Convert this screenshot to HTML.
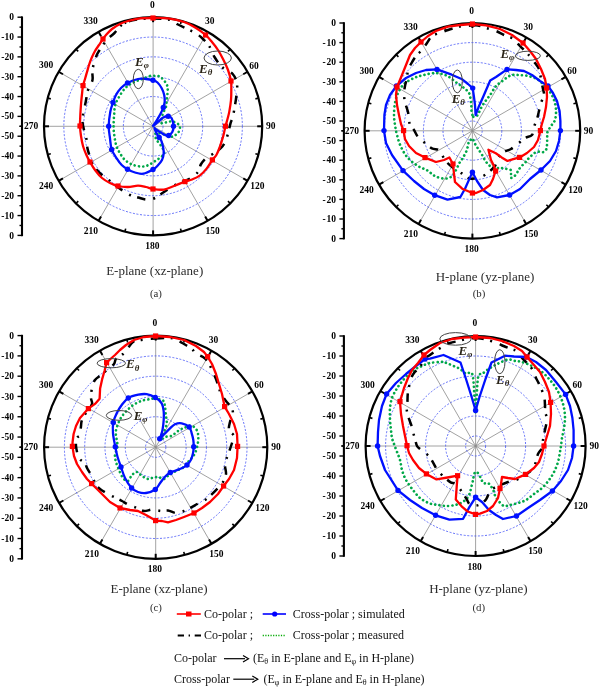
<!DOCTYPE html>
<html><head><meta charset="utf-8"><style>
html,body{margin:0;padding:0;background:#fff;}
svg{display:block;will-change:transform;}
text{font-family:"Liberation Serif",serif;}
.ax{font-size:9.5px;font-weight:bold;}
.ang{font-size:9.5px;font-weight:bold;}
.cap{font-size:13px;fill:#2b2b2b;}
.sub{font-size:10.8px;fill:#2b2b2b;}
.leg{font-size:12px;fill:#111;}
.sb{font-size:8px;}
.el{font-style:italic;font-weight:bold;fill:#2a2418;}
</style></head><body>
<svg width="600" height="688" viewBox="0 0 600 688">
<rect width="600" height="688" fill="#fff"/>
<line x1="153.10" y1="126.30" x2="153.10" y2="17.20" stroke="#8a8a8a" stroke-width="0.8"/>
<line x1="153.10" y1="126.30" x2="207.65" y2="31.82" stroke="#8a8a8a" stroke-width="0.8"/>
<line x1="153.10" y1="126.30" x2="247.58" y2="71.75" stroke="#8a8a8a" stroke-width="0.8"/>
<line x1="153.10" y1="126.30" x2="262.20" y2="126.30" stroke="#8a8a8a" stroke-width="0.8"/>
<line x1="153.10" y1="126.30" x2="247.58" y2="180.85" stroke="#8a8a8a" stroke-width="0.8"/>
<line x1="153.10" y1="126.30" x2="207.65" y2="220.78" stroke="#8a8a8a" stroke-width="0.8"/>
<line x1="153.10" y1="126.30" x2="153.10" y2="235.40" stroke="#8a8a8a" stroke-width="0.8"/>
<line x1="153.10" y1="126.30" x2="98.55" y2="220.78" stroke="#8a8a8a" stroke-width="0.8"/>
<line x1="153.10" y1="126.30" x2="58.62" y2="180.85" stroke="#8a8a8a" stroke-width="0.8"/>
<line x1="153.10" y1="126.30" x2="44.00" y2="126.30" stroke="#8a8a8a" stroke-width="0.8"/>
<line x1="153.10" y1="126.30" x2="58.62" y2="71.75" stroke="#8a8a8a" stroke-width="0.8"/>
<line x1="153.10" y1="126.30" x2="98.55" y2="31.82" stroke="#8a8a8a" stroke-width="0.8"/>
<circle cx="153.10" cy="126.30" r="89.26" fill="none" stroke="#4050f8" stroke-width="0.8" stroke-dasharray="2 1.6"/>
<circle cx="153.10" cy="126.30" r="69.43" fill="none" stroke="#4050f8" stroke-width="0.8" stroke-dasharray="2 1.6"/>
<circle cx="153.10" cy="126.30" r="49.59" fill="none" stroke="#4050f8" stroke-width="0.8" stroke-dasharray="2 1.6"/>
<circle cx="153.10" cy="126.30" r="29.75" fill="none" stroke="#4050f8" stroke-width="0.8" stroke-dasharray="2 1.6"/>
<circle cx="153.10" cy="126.30" r="9.92" fill="none" stroke="#4050f8" stroke-width="0.8" stroke-dasharray="2 1.6"/>
<circle cx="153.10" cy="126.30" r="109.10" fill="none" stroke="#000" stroke-width="2.2"/>
<line x1="153.10" y1="17.20" x2="153.10" y2="22.20" stroke="#000" stroke-width="2.0"/>
<line x1="181.34" y1="20.92" x2="180.51" y2="24.01" stroke="#000" stroke-width="1.6"/>
<line x1="207.65" y1="31.82" x2="205.15" y2="36.15" stroke="#000" stroke-width="2.0"/>
<line x1="230.25" y1="49.15" x2="227.98" y2="51.42" stroke="#000" stroke-width="1.6"/>
<line x1="247.58" y1="71.75" x2="243.25" y2="74.25" stroke="#000" stroke-width="2.0"/>
<line x1="258.48" y1="98.06" x2="255.39" y2="98.89" stroke="#000" stroke-width="1.6"/>
<line x1="262.20" y1="126.30" x2="257.20" y2="126.30" stroke="#000" stroke-width="2.0"/>
<line x1="258.48" y1="154.54" x2="255.39" y2="153.71" stroke="#000" stroke-width="1.6"/>
<line x1="247.58" y1="180.85" x2="243.25" y2="178.35" stroke="#000" stroke-width="2.0"/>
<line x1="230.25" y1="203.45" x2="227.98" y2="201.18" stroke="#000" stroke-width="1.6"/>
<line x1="207.65" y1="220.78" x2="205.15" y2="216.45" stroke="#000" stroke-width="2.0"/>
<line x1="181.34" y1="231.68" x2="180.51" y2="228.59" stroke="#000" stroke-width="1.6"/>
<line x1="153.10" y1="235.40" x2="153.10" y2="230.40" stroke="#000" stroke-width="2.0"/>
<line x1="124.86" y1="231.68" x2="125.69" y2="228.59" stroke="#000" stroke-width="1.6"/>
<line x1="98.55" y1="220.78" x2="101.05" y2="216.45" stroke="#000" stroke-width="2.0"/>
<line x1="75.95" y1="203.45" x2="78.22" y2="201.18" stroke="#000" stroke-width="1.6"/>
<line x1="58.62" y1="180.85" x2="62.95" y2="178.35" stroke="#000" stroke-width="2.0"/>
<line x1="47.72" y1="154.54" x2="50.81" y2="153.71" stroke="#000" stroke-width="1.6"/>
<line x1="44.00" y1="126.30" x2="49.00" y2="126.30" stroke="#000" stroke-width="2.0"/>
<line x1="47.72" y1="98.06" x2="50.81" y2="98.89" stroke="#000" stroke-width="1.6"/>
<line x1="58.62" y1="71.75" x2="62.95" y2="74.25" stroke="#000" stroke-width="2.0"/>
<line x1="75.95" y1="49.15" x2="78.22" y2="51.42" stroke="#000" stroke-width="1.6"/>
<line x1="98.55" y1="31.82" x2="101.05" y2="36.15" stroke="#000" stroke-width="2.0"/>
<line x1="124.86" y1="20.92" x2="125.69" y2="24.01" stroke="#000" stroke-width="1.6"/>
<line x1="22.0" y1="16.40" x2="22.0" y2="236.20" stroke="#000" stroke-width="2.1"/>
<line x1="17.50" y1="17.20" x2="22.0" y2="17.20" stroke="#000" stroke-width="1.4"/>
<line x1="17.50" y1="235.40" x2="22.0" y2="235.40" stroke="#000" stroke-width="1.4"/>
<line x1="19.50" y1="27.12" x2="22.0" y2="27.12" stroke="#000" stroke-width="1.4"/>
<line x1="19.50" y1="225.48" x2="22.0" y2="225.48" stroke="#000" stroke-width="1.4"/>
<line x1="17.50" y1="37.04" x2="22.0" y2="37.04" stroke="#000" stroke-width="1.4"/>
<line x1="17.50" y1="215.56" x2="22.0" y2="215.56" stroke="#000" stroke-width="1.4"/>
<line x1="19.50" y1="46.95" x2="22.0" y2="46.95" stroke="#000" stroke-width="1.4"/>
<line x1="19.50" y1="205.65" x2="22.0" y2="205.65" stroke="#000" stroke-width="1.4"/>
<line x1="17.50" y1="56.87" x2="22.0" y2="56.87" stroke="#000" stroke-width="1.4"/>
<line x1="17.50" y1="195.73" x2="22.0" y2="195.73" stroke="#000" stroke-width="1.4"/>
<line x1="19.50" y1="66.79" x2="22.0" y2="66.79" stroke="#000" stroke-width="1.4"/>
<line x1="19.50" y1="185.81" x2="22.0" y2="185.81" stroke="#000" stroke-width="1.4"/>
<line x1="17.50" y1="76.71" x2="22.0" y2="76.71" stroke="#000" stroke-width="1.4"/>
<line x1="17.50" y1="175.89" x2="22.0" y2="175.89" stroke="#000" stroke-width="1.4"/>
<line x1="19.50" y1="86.63" x2="22.0" y2="86.63" stroke="#000" stroke-width="1.4"/>
<line x1="19.50" y1="165.97" x2="22.0" y2="165.97" stroke="#000" stroke-width="1.4"/>
<line x1="17.50" y1="96.55" x2="22.0" y2="96.55" stroke="#000" stroke-width="1.4"/>
<line x1="17.50" y1="156.05" x2="22.0" y2="156.05" stroke="#000" stroke-width="1.4"/>
<line x1="19.50" y1="106.46" x2="22.0" y2="106.46" stroke="#000" stroke-width="1.4"/>
<line x1="19.50" y1="146.14" x2="22.0" y2="146.14" stroke="#000" stroke-width="1.4"/>
<line x1="17.50" y1="116.38" x2="22.0" y2="116.38" stroke="#000" stroke-width="1.4"/>
<line x1="17.50" y1="136.22" x2="22.0" y2="136.22" stroke="#000" stroke-width="1.4"/>
<line x1="19.50" y1="126.30" x2="22.0" y2="126.30" stroke="#000" stroke-width="1.4"/>
<line x1="19.50" y1="126.30" x2="22.0" y2="126.30" stroke="#000" stroke-width="1.4"/>
<text x="14.00" y="20.30" text-anchor="end" class="ax">0</text>
<text x="14.00" y="238.50" text-anchor="end" class="ax">0</text>
<text x="14.00" y="40.14" text-anchor="end" class="ax">-10</text>
<text x="14.00" y="218.66" text-anchor="end" class="ax">-10</text>
<text x="14.00" y="59.97" text-anchor="end" class="ax">-20</text>
<text x="14.00" y="198.83" text-anchor="end" class="ax">-20</text>
<text x="14.00" y="79.81" text-anchor="end" class="ax">-30</text>
<text x="14.00" y="178.99" text-anchor="end" class="ax">-30</text>
<text x="14.00" y="99.65" text-anchor="end" class="ax">-40</text>
<text x="14.00" y="159.15" text-anchor="end" class="ax">-40</text>
<text x="14.00" y="119.48" text-anchor="end" class="ax">-50</text>
<text x="14.00" y="139.32" text-anchor="end" class="ax">-50</text>
<text x="152.40" y="7.60" text-anchor="middle" class="ang">0</text>
<text x="209.70" y="24.30" text-anchor="middle" class="ang">30</text>
<text x="254.00" y="68.60" text-anchor="middle" class="ang">60</text>
<text x="270.70" y="129.10" text-anchor="middle" class="ang">90</text>
<text x="257.30" y="188.90" text-anchor="middle" class="ang">120</text>
<text x="212.50" y="233.80" text-anchor="middle" class="ang">150</text>
<text x="152.25" y="248.85" text-anchor="middle" class="ang">180</text>
<text x="90.80" y="233.90" text-anchor="middle" class="ang">210</text>
<text x="46.00" y="188.90" text-anchor="middle" class="ang">240</text>
<text x="31.00" y="129.30" text-anchor="middle" class="ang">270</text>
<text x="46.00" y="68.30" text-anchor="middle" class="ang">300</text>
<text x="90.50" y="24.40" text-anchor="middle" class="ang">330</text><line x1="472.40" y1="130.80" x2="472.40" y2="23.00" stroke="#8a8a8a" stroke-width="0.8"/>
<line x1="472.40" y1="130.80" x2="526.30" y2="37.44" stroke="#8a8a8a" stroke-width="0.8"/>
<line x1="472.40" y1="130.80" x2="565.76" y2="76.90" stroke="#8a8a8a" stroke-width="0.8"/>
<line x1="472.40" y1="130.80" x2="580.20" y2="130.80" stroke="#8a8a8a" stroke-width="0.8"/>
<line x1="472.40" y1="130.80" x2="565.76" y2="184.70" stroke="#8a8a8a" stroke-width="0.8"/>
<line x1="472.40" y1="130.80" x2="526.30" y2="224.16" stroke="#8a8a8a" stroke-width="0.8"/>
<line x1="472.40" y1="130.80" x2="472.40" y2="238.60" stroke="#8a8a8a" stroke-width="0.8"/>
<line x1="472.40" y1="130.80" x2="418.50" y2="224.16" stroke="#8a8a8a" stroke-width="0.8"/>
<line x1="472.40" y1="130.80" x2="379.04" y2="184.70" stroke="#8a8a8a" stroke-width="0.8"/>
<line x1="472.40" y1="130.80" x2="364.60" y2="130.80" stroke="#8a8a8a" stroke-width="0.8"/>
<line x1="472.40" y1="130.80" x2="379.04" y2="76.90" stroke="#8a8a8a" stroke-width="0.8"/>
<line x1="472.40" y1="130.80" x2="418.50" y2="37.44" stroke="#8a8a8a" stroke-width="0.8"/>
<circle cx="472.40" cy="130.80" r="88.20" fill="none" stroke="#4050f8" stroke-width="0.8" stroke-dasharray="2 1.6"/>
<circle cx="472.40" cy="130.80" r="68.60" fill="none" stroke="#4050f8" stroke-width="0.8" stroke-dasharray="2 1.6"/>
<circle cx="472.40" cy="130.80" r="49.00" fill="none" stroke="#4050f8" stroke-width="0.8" stroke-dasharray="2 1.6"/>
<circle cx="472.40" cy="130.80" r="29.40" fill="none" stroke="#4050f8" stroke-width="0.8" stroke-dasharray="2 1.6"/>
<circle cx="472.40" cy="130.80" r="9.80" fill="none" stroke="#4050f8" stroke-width="0.8" stroke-dasharray="2 1.6"/>
<circle cx="472.40" cy="130.80" r="107.80" fill="none" stroke="#000" stroke-width="2.2"/>
<line x1="472.40" y1="23.00" x2="472.40" y2="28.00" stroke="#000" stroke-width="2.0"/>
<line x1="500.30" y1="26.67" x2="499.47" y2="29.76" stroke="#000" stroke-width="1.6"/>
<line x1="526.30" y1="37.44" x2="523.80" y2="41.77" stroke="#000" stroke-width="2.0"/>
<line x1="548.63" y1="54.57" x2="546.36" y2="56.84" stroke="#000" stroke-width="1.6"/>
<line x1="565.76" y1="76.90" x2="561.43" y2="79.40" stroke="#000" stroke-width="2.0"/>
<line x1="576.53" y1="102.90" x2="573.44" y2="103.73" stroke="#000" stroke-width="1.6"/>
<line x1="580.20" y1="130.80" x2="575.20" y2="130.80" stroke="#000" stroke-width="2.0"/>
<line x1="576.53" y1="158.70" x2="573.44" y2="157.87" stroke="#000" stroke-width="1.6"/>
<line x1="565.76" y1="184.70" x2="561.43" y2="182.20" stroke="#000" stroke-width="2.0"/>
<line x1="548.63" y1="207.03" x2="546.36" y2="204.76" stroke="#000" stroke-width="1.6"/>
<line x1="526.30" y1="224.16" x2="523.80" y2="219.83" stroke="#000" stroke-width="2.0"/>
<line x1="500.30" y1="234.93" x2="499.47" y2="231.84" stroke="#000" stroke-width="1.6"/>
<line x1="472.40" y1="238.60" x2="472.40" y2="233.60" stroke="#000" stroke-width="2.0"/>
<line x1="444.50" y1="234.93" x2="445.33" y2="231.84" stroke="#000" stroke-width="1.6"/>
<line x1="418.50" y1="224.16" x2="421.00" y2="219.83" stroke="#000" stroke-width="2.0"/>
<line x1="396.17" y1="207.03" x2="398.44" y2="204.76" stroke="#000" stroke-width="1.6"/>
<line x1="379.04" y1="184.70" x2="383.37" y2="182.20" stroke="#000" stroke-width="2.0"/>
<line x1="368.27" y1="158.70" x2="371.36" y2="157.87" stroke="#000" stroke-width="1.6"/>
<line x1="364.60" y1="130.80" x2="369.60" y2="130.80" stroke="#000" stroke-width="2.0"/>
<line x1="368.27" y1="102.90" x2="371.36" y2="103.73" stroke="#000" stroke-width="1.6"/>
<line x1="379.04" y1="76.90" x2="383.37" y2="79.40" stroke="#000" stroke-width="2.0"/>
<line x1="396.17" y1="54.57" x2="398.44" y2="56.84" stroke="#000" stroke-width="1.6"/>
<line x1="418.50" y1="37.44" x2="421.00" y2="41.77" stroke="#000" stroke-width="2.0"/>
<line x1="444.50" y1="26.67" x2="445.33" y2="29.76" stroke="#000" stroke-width="1.6"/>
<line x1="343.9" y1="22.20" x2="343.9" y2="239.40" stroke="#000" stroke-width="2.1"/>
<line x1="339.40" y1="23.00" x2="343.9" y2="23.00" stroke="#000" stroke-width="1.4"/>
<line x1="339.40" y1="238.60" x2="343.9" y2="238.60" stroke="#000" stroke-width="1.4"/>
<line x1="341.40" y1="32.80" x2="343.9" y2="32.80" stroke="#000" stroke-width="1.4"/>
<line x1="341.40" y1="228.80" x2="343.9" y2="228.80" stroke="#000" stroke-width="1.4"/>
<line x1="339.40" y1="42.60" x2="343.9" y2="42.60" stroke="#000" stroke-width="1.4"/>
<line x1="339.40" y1="219.00" x2="343.9" y2="219.00" stroke="#000" stroke-width="1.4"/>
<line x1="341.40" y1="52.40" x2="343.9" y2="52.40" stroke="#000" stroke-width="1.4"/>
<line x1="341.40" y1="209.20" x2="343.9" y2="209.20" stroke="#000" stroke-width="1.4"/>
<line x1="339.40" y1="62.20" x2="343.9" y2="62.20" stroke="#000" stroke-width="1.4"/>
<line x1="339.40" y1="199.40" x2="343.9" y2="199.40" stroke="#000" stroke-width="1.4"/>
<line x1="341.40" y1="72.00" x2="343.9" y2="72.00" stroke="#000" stroke-width="1.4"/>
<line x1="341.40" y1="189.60" x2="343.9" y2="189.60" stroke="#000" stroke-width="1.4"/>
<line x1="339.40" y1="81.80" x2="343.9" y2="81.80" stroke="#000" stroke-width="1.4"/>
<line x1="339.40" y1="179.80" x2="343.9" y2="179.80" stroke="#000" stroke-width="1.4"/>
<line x1="341.40" y1="91.60" x2="343.9" y2="91.60" stroke="#000" stroke-width="1.4"/>
<line x1="341.40" y1="170.00" x2="343.9" y2="170.00" stroke="#000" stroke-width="1.4"/>
<line x1="339.40" y1="101.40" x2="343.9" y2="101.40" stroke="#000" stroke-width="1.4"/>
<line x1="339.40" y1="160.20" x2="343.9" y2="160.20" stroke="#000" stroke-width="1.4"/>
<line x1="341.40" y1="111.20" x2="343.9" y2="111.20" stroke="#000" stroke-width="1.4"/>
<line x1="341.40" y1="150.40" x2="343.9" y2="150.40" stroke="#000" stroke-width="1.4"/>
<line x1="339.40" y1="121.00" x2="343.9" y2="121.00" stroke="#000" stroke-width="1.4"/>
<line x1="339.40" y1="140.60" x2="343.9" y2="140.60" stroke="#000" stroke-width="1.4"/>
<line x1="341.40" y1="130.80" x2="343.9" y2="130.80" stroke="#000" stroke-width="1.4"/>
<line x1="341.40" y1="130.80" x2="343.9" y2="130.80" stroke="#000" stroke-width="1.4"/>
<text x="335.90" y="26.10" text-anchor="end" class="ax">0</text>
<text x="335.90" y="241.70" text-anchor="end" class="ax">0</text>
<text x="335.90" y="45.70" text-anchor="end" class="ax">- 10</text>
<text x="335.90" y="222.10" text-anchor="end" class="ax">- 10</text>
<text x="335.90" y="65.30" text-anchor="end" class="ax">- 20</text>
<text x="335.90" y="202.50" text-anchor="end" class="ax">- 20</text>
<text x="335.90" y="84.90" text-anchor="end" class="ax">- 30</text>
<text x="335.90" y="182.90" text-anchor="end" class="ax">- 30</text>
<text x="335.90" y="104.50" text-anchor="end" class="ax">- 40</text>
<text x="335.90" y="163.30" text-anchor="end" class="ax">- 40</text>
<text x="335.90" y="124.10" text-anchor="end" class="ax">- 50</text>
<text x="335.90" y="143.70" text-anchor="end" class="ax">- 50</text>
<text x="471.71" y="13.55" text-anchor="middle" class="ang">0</text>
<text x="528.33" y="30.05" text-anchor="middle" class="ang">30</text>
<text x="572.10" y="73.82" text-anchor="middle" class="ang">60</text>
<text x="588.60" y="133.60" text-anchor="middle" class="ang">90</text>
<text x="575.36" y="192.69" text-anchor="middle" class="ang">120</text>
<text x="531.09" y="237.06" text-anchor="middle" class="ang">150</text>
<text x="471.56" y="251.93" text-anchor="middle" class="ang">180</text>
<text x="410.84" y="237.15" text-anchor="middle" class="ang">210</text>
<text x="366.58" y="192.69" text-anchor="middle" class="ang">240</text>
<text x="351.75" y="133.80" text-anchor="middle" class="ang">270</text>
<text x="366.58" y="73.53" text-anchor="middle" class="ang">300</text>
<text x="410.55" y="30.15" text-anchor="middle" class="ang">330</text><line x1="155.70" y1="447.20" x2="155.70" y2="335.60" stroke="#8a8a8a" stroke-width="0.8"/>
<line x1="155.70" y1="447.20" x2="211.50" y2="350.55" stroke="#8a8a8a" stroke-width="0.8"/>
<line x1="155.70" y1="447.20" x2="252.35" y2="391.40" stroke="#8a8a8a" stroke-width="0.8"/>
<line x1="155.70" y1="447.20" x2="267.30" y2="447.20" stroke="#8a8a8a" stroke-width="0.8"/>
<line x1="155.70" y1="447.20" x2="252.35" y2="503.00" stroke="#8a8a8a" stroke-width="0.8"/>
<line x1="155.70" y1="447.20" x2="211.50" y2="543.85" stroke="#8a8a8a" stroke-width="0.8"/>
<line x1="155.70" y1="447.20" x2="155.70" y2="558.80" stroke="#8a8a8a" stroke-width="0.8"/>
<line x1="155.70" y1="447.20" x2="99.90" y2="543.85" stroke="#8a8a8a" stroke-width="0.8"/>
<line x1="155.70" y1="447.20" x2="59.05" y2="503.00" stroke="#8a8a8a" stroke-width="0.8"/>
<line x1="155.70" y1="447.20" x2="44.10" y2="447.20" stroke="#8a8a8a" stroke-width="0.8"/>
<line x1="155.70" y1="447.20" x2="59.05" y2="391.40" stroke="#8a8a8a" stroke-width="0.8"/>
<line x1="155.70" y1="447.20" x2="99.90" y2="350.55" stroke="#8a8a8a" stroke-width="0.8"/>
<circle cx="155.70" cy="447.20" r="91.31" fill="none" stroke="#4050f8" stroke-width="0.8" stroke-dasharray="2 1.6"/>
<circle cx="155.70" cy="447.20" r="71.02" fill="none" stroke="#4050f8" stroke-width="0.8" stroke-dasharray="2 1.6"/>
<circle cx="155.70" cy="447.20" r="50.73" fill="none" stroke="#4050f8" stroke-width="0.8" stroke-dasharray="2 1.6"/>
<circle cx="155.70" cy="447.20" r="30.44" fill="none" stroke="#4050f8" stroke-width="0.8" stroke-dasharray="2 1.6"/>
<circle cx="155.70" cy="447.20" r="10.15" fill="none" stroke="#4050f8" stroke-width="0.8" stroke-dasharray="2 1.6"/>
<circle cx="155.70" cy="447.20" r="111.60" fill="none" stroke="#000" stroke-width="2.2"/>
<line x1="155.70" y1="335.60" x2="155.70" y2="340.60" stroke="#000" stroke-width="2.0"/>
<line x1="184.58" y1="339.40" x2="183.76" y2="342.49" stroke="#000" stroke-width="1.6"/>
<line x1="211.50" y1="350.55" x2="209.00" y2="354.88" stroke="#000" stroke-width="2.0"/>
<line x1="234.61" y1="368.29" x2="232.35" y2="370.55" stroke="#000" stroke-width="1.6"/>
<line x1="252.35" y1="391.40" x2="248.02" y2="393.90" stroke="#000" stroke-width="2.0"/>
<line x1="263.50" y1="418.32" x2="260.41" y2="419.14" stroke="#000" stroke-width="1.6"/>
<line x1="267.30" y1="447.20" x2="262.30" y2="447.20" stroke="#000" stroke-width="2.0"/>
<line x1="263.50" y1="476.08" x2="260.41" y2="475.26" stroke="#000" stroke-width="1.6"/>
<line x1="252.35" y1="503.00" x2="248.02" y2="500.50" stroke="#000" stroke-width="2.0"/>
<line x1="234.61" y1="526.11" x2="232.35" y2="523.85" stroke="#000" stroke-width="1.6"/>
<line x1="211.50" y1="543.85" x2="209.00" y2="539.52" stroke="#000" stroke-width="2.0"/>
<line x1="184.58" y1="555.00" x2="183.76" y2="551.91" stroke="#000" stroke-width="1.6"/>
<line x1="155.70" y1="558.80" x2="155.70" y2="553.80" stroke="#000" stroke-width="2.0"/>
<line x1="126.82" y1="555.00" x2="127.64" y2="551.91" stroke="#000" stroke-width="1.6"/>
<line x1="99.90" y1="543.85" x2="102.40" y2="539.52" stroke="#000" stroke-width="2.0"/>
<line x1="76.79" y1="526.11" x2="79.05" y2="523.85" stroke="#000" stroke-width="1.6"/>
<line x1="59.05" y1="503.00" x2="63.38" y2="500.50" stroke="#000" stroke-width="2.0"/>
<line x1="47.90" y1="476.08" x2="50.99" y2="475.26" stroke="#000" stroke-width="1.6"/>
<line x1="44.10" y1="447.20" x2="49.10" y2="447.20" stroke="#000" stroke-width="2.0"/>
<line x1="47.90" y1="418.32" x2="50.99" y2="419.14" stroke="#000" stroke-width="1.6"/>
<line x1="59.05" y1="391.40" x2="63.38" y2="393.90" stroke="#000" stroke-width="2.0"/>
<line x1="76.79" y1="368.29" x2="79.05" y2="370.55" stroke="#000" stroke-width="1.6"/>
<line x1="99.90" y1="350.55" x2="102.40" y2="354.88" stroke="#000" stroke-width="2.0"/>
<line x1="126.82" y1="339.40" x2="127.64" y2="342.49" stroke="#000" stroke-width="1.6"/>
<line x1="22.0" y1="334.80" x2="22.0" y2="559.60" stroke="#000" stroke-width="2.1"/>
<line x1="17.50" y1="335.60" x2="22.0" y2="335.60" stroke="#000" stroke-width="1.4"/>
<line x1="17.50" y1="558.80" x2="22.0" y2="558.80" stroke="#000" stroke-width="1.4"/>
<line x1="19.50" y1="345.75" x2="22.0" y2="345.75" stroke="#000" stroke-width="1.4"/>
<line x1="19.50" y1="548.65" x2="22.0" y2="548.65" stroke="#000" stroke-width="1.4"/>
<line x1="17.50" y1="355.89" x2="22.0" y2="355.89" stroke="#000" stroke-width="1.4"/>
<line x1="17.50" y1="538.51" x2="22.0" y2="538.51" stroke="#000" stroke-width="1.4"/>
<line x1="19.50" y1="366.04" x2="22.0" y2="366.04" stroke="#000" stroke-width="1.4"/>
<line x1="19.50" y1="528.36" x2="22.0" y2="528.36" stroke="#000" stroke-width="1.4"/>
<line x1="17.50" y1="376.18" x2="22.0" y2="376.18" stroke="#000" stroke-width="1.4"/>
<line x1="17.50" y1="518.22" x2="22.0" y2="518.22" stroke="#000" stroke-width="1.4"/>
<line x1="19.50" y1="386.33" x2="22.0" y2="386.33" stroke="#000" stroke-width="1.4"/>
<line x1="19.50" y1="508.07" x2="22.0" y2="508.07" stroke="#000" stroke-width="1.4"/>
<line x1="17.50" y1="396.47" x2="22.0" y2="396.47" stroke="#000" stroke-width="1.4"/>
<line x1="17.50" y1="497.93" x2="22.0" y2="497.93" stroke="#000" stroke-width="1.4"/>
<line x1="19.50" y1="406.62" x2="22.0" y2="406.62" stroke="#000" stroke-width="1.4"/>
<line x1="19.50" y1="487.78" x2="22.0" y2="487.78" stroke="#000" stroke-width="1.4"/>
<line x1="17.50" y1="416.76" x2="22.0" y2="416.76" stroke="#000" stroke-width="1.4"/>
<line x1="17.50" y1="477.64" x2="22.0" y2="477.64" stroke="#000" stroke-width="1.4"/>
<line x1="19.50" y1="426.91" x2="22.0" y2="426.91" stroke="#000" stroke-width="1.4"/>
<line x1="19.50" y1="467.49" x2="22.0" y2="467.49" stroke="#000" stroke-width="1.4"/>
<line x1="17.50" y1="437.05" x2="22.0" y2="437.05" stroke="#000" stroke-width="1.4"/>
<line x1="17.50" y1="457.35" x2="22.0" y2="457.35" stroke="#000" stroke-width="1.4"/>
<line x1="19.50" y1="447.20" x2="22.0" y2="447.20" stroke="#000" stroke-width="1.4"/>
<line x1="19.50" y1="447.20" x2="22.0" y2="447.20" stroke="#000" stroke-width="1.4"/>
<text x="14.00" y="338.70" text-anchor="end" class="ax">0</text>
<text x="14.00" y="561.90" text-anchor="end" class="ax">0</text>
<text x="14.00" y="358.99" text-anchor="end" class="ax">-10</text>
<text x="14.00" y="541.61" text-anchor="end" class="ax">-10</text>
<text x="14.00" y="379.28" text-anchor="end" class="ax">-20</text>
<text x="14.00" y="521.32" text-anchor="end" class="ax">-20</text>
<text x="14.00" y="399.57" text-anchor="end" class="ax">-30</text>
<text x="14.00" y="501.03" text-anchor="end" class="ax">-30</text>
<text x="14.00" y="419.86" text-anchor="end" class="ax">-40</text>
<text x="14.00" y="480.74" text-anchor="end" class="ax">-40</text>
<text x="14.00" y="440.15" text-anchor="end" class="ax">-50</text>
<text x="14.00" y="460.45" text-anchor="end" class="ax">-50</text>
<text x="154.98" y="325.71" text-anchor="middle" class="ang">0</text>
<text x="213.60" y="342.79" text-anchor="middle" class="ang">30</text>
<text x="258.91" y="388.11" text-anchor="middle" class="ang">60</text>
<text x="275.99" y="449.99" text-anchor="middle" class="ang">90</text>
<text x="262.29" y="511.16" text-anchor="middle" class="ang">120</text>
<text x="216.46" y="557.09" text-anchor="middle" class="ang">150</text>
<text x="154.83" y="572.49" text-anchor="middle" class="ang">180</text>
<text x="91.97" y="557.19" text-anchor="middle" class="ang">210</text>
<text x="46.15" y="511.16" text-anchor="middle" class="ang">240</text>
<text x="30.80" y="450.20" text-anchor="middle" class="ang">270</text>
<text x="46.15" y="387.80" text-anchor="middle" class="ang">300</text>
<text x="91.67" y="342.89" text-anchor="middle" class="ang">330</text><line x1="475.60" y1="446.00" x2="475.60" y2="336.00" stroke="#8a8a8a" stroke-width="0.8"/>
<line x1="475.60" y1="446.00" x2="530.60" y2="350.74" stroke="#8a8a8a" stroke-width="0.8"/>
<line x1="475.60" y1="446.00" x2="570.86" y2="391.00" stroke="#8a8a8a" stroke-width="0.8"/>
<line x1="475.60" y1="446.00" x2="585.60" y2="446.00" stroke="#8a8a8a" stroke-width="0.8"/>
<line x1="475.60" y1="446.00" x2="570.86" y2="501.00" stroke="#8a8a8a" stroke-width="0.8"/>
<line x1="475.60" y1="446.00" x2="530.60" y2="541.26" stroke="#8a8a8a" stroke-width="0.8"/>
<line x1="475.60" y1="446.00" x2="475.60" y2="556.00" stroke="#8a8a8a" stroke-width="0.8"/>
<line x1="475.60" y1="446.00" x2="420.60" y2="541.26" stroke="#8a8a8a" stroke-width="0.8"/>
<line x1="475.60" y1="446.00" x2="380.34" y2="501.00" stroke="#8a8a8a" stroke-width="0.8"/>
<line x1="475.60" y1="446.00" x2="365.60" y2="446.00" stroke="#8a8a8a" stroke-width="0.8"/>
<line x1="475.60" y1="446.00" x2="380.34" y2="391.00" stroke="#8a8a8a" stroke-width="0.8"/>
<line x1="475.60" y1="446.00" x2="420.60" y2="350.74" stroke="#8a8a8a" stroke-width="0.8"/>
<circle cx="475.60" cy="446.00" r="90.00" fill="none" stroke="#4050f8" stroke-width="0.8" stroke-dasharray="2 1.6"/>
<circle cx="475.60" cy="446.00" r="70.00" fill="none" stroke="#4050f8" stroke-width="0.8" stroke-dasharray="2 1.6"/>
<circle cx="475.60" cy="446.00" r="50.00" fill="none" stroke="#4050f8" stroke-width="0.8" stroke-dasharray="2 1.6"/>
<circle cx="475.60" cy="446.00" r="30.00" fill="none" stroke="#4050f8" stroke-width="0.8" stroke-dasharray="2 1.6"/>
<circle cx="475.60" cy="446.00" r="10.00" fill="none" stroke="#4050f8" stroke-width="0.8" stroke-dasharray="2 1.6"/>
<circle cx="475.60" cy="446.00" r="110.00" fill="none" stroke="#000" stroke-width="2.2"/>
<line x1="475.60" y1="336.00" x2="475.60" y2="341.00" stroke="#000" stroke-width="2.0"/>
<line x1="504.07" y1="339.75" x2="503.24" y2="342.84" stroke="#000" stroke-width="1.6"/>
<line x1="530.60" y1="350.74" x2="528.10" y2="355.07" stroke="#000" stroke-width="2.0"/>
<line x1="553.38" y1="368.22" x2="551.12" y2="370.48" stroke="#000" stroke-width="1.6"/>
<line x1="570.86" y1="391.00" x2="566.53" y2="393.50" stroke="#000" stroke-width="2.0"/>
<line x1="581.85" y1="417.53" x2="578.76" y2="418.36" stroke="#000" stroke-width="1.6"/>
<line x1="585.60" y1="446.00" x2="580.60" y2="446.00" stroke="#000" stroke-width="2.0"/>
<line x1="581.85" y1="474.47" x2="578.76" y2="473.64" stroke="#000" stroke-width="1.6"/>
<line x1="570.86" y1="501.00" x2="566.53" y2="498.50" stroke="#000" stroke-width="2.0"/>
<line x1="553.38" y1="523.78" x2="551.12" y2="521.52" stroke="#000" stroke-width="1.6"/>
<line x1="530.60" y1="541.26" x2="528.10" y2="536.93" stroke="#000" stroke-width="2.0"/>
<line x1="504.07" y1="552.25" x2="503.24" y2="549.16" stroke="#000" stroke-width="1.6"/>
<line x1="475.60" y1="556.00" x2="475.60" y2="551.00" stroke="#000" stroke-width="2.0"/>
<line x1="447.13" y1="552.25" x2="447.96" y2="549.16" stroke="#000" stroke-width="1.6"/>
<line x1="420.60" y1="541.26" x2="423.10" y2="536.93" stroke="#000" stroke-width="2.0"/>
<line x1="397.82" y1="523.78" x2="400.08" y2="521.52" stroke="#000" stroke-width="1.6"/>
<line x1="380.34" y1="501.00" x2="384.67" y2="498.50" stroke="#000" stroke-width="2.0"/>
<line x1="369.35" y1="474.47" x2="372.44" y2="473.64" stroke="#000" stroke-width="1.6"/>
<line x1="365.60" y1="446.00" x2="370.60" y2="446.00" stroke="#000" stroke-width="2.0"/>
<line x1="369.35" y1="417.53" x2="372.44" y2="418.36" stroke="#000" stroke-width="1.6"/>
<line x1="380.34" y1="391.00" x2="384.67" y2="393.50" stroke="#000" stroke-width="2.0"/>
<line x1="397.82" y1="368.22" x2="400.08" y2="370.48" stroke="#000" stroke-width="1.6"/>
<line x1="420.60" y1="350.74" x2="423.10" y2="355.07" stroke="#000" stroke-width="2.0"/>
<line x1="447.13" y1="339.75" x2="447.96" y2="342.84" stroke="#000" stroke-width="1.6"/>
<line x1="343.9" y1="335.20" x2="343.9" y2="556.80" stroke="#000" stroke-width="2.1"/>
<line x1="339.40" y1="336.00" x2="343.9" y2="336.00" stroke="#000" stroke-width="1.4"/>
<line x1="339.40" y1="556.00" x2="343.9" y2="556.00" stroke="#000" stroke-width="1.4"/>
<line x1="341.40" y1="346.00" x2="343.9" y2="346.00" stroke="#000" stroke-width="1.4"/>
<line x1="341.40" y1="546.00" x2="343.9" y2="546.00" stroke="#000" stroke-width="1.4"/>
<line x1="339.40" y1="356.00" x2="343.9" y2="356.00" stroke="#000" stroke-width="1.4"/>
<line x1="339.40" y1="536.00" x2="343.9" y2="536.00" stroke="#000" stroke-width="1.4"/>
<line x1="341.40" y1="366.00" x2="343.9" y2="366.00" stroke="#000" stroke-width="1.4"/>
<line x1="341.40" y1="526.00" x2="343.9" y2="526.00" stroke="#000" stroke-width="1.4"/>
<line x1="339.40" y1="376.00" x2="343.9" y2="376.00" stroke="#000" stroke-width="1.4"/>
<line x1="339.40" y1="516.00" x2="343.9" y2="516.00" stroke="#000" stroke-width="1.4"/>
<line x1="341.40" y1="386.00" x2="343.9" y2="386.00" stroke="#000" stroke-width="1.4"/>
<line x1="341.40" y1="506.00" x2="343.9" y2="506.00" stroke="#000" stroke-width="1.4"/>
<line x1="339.40" y1="396.00" x2="343.9" y2="396.00" stroke="#000" stroke-width="1.4"/>
<line x1="339.40" y1="496.00" x2="343.9" y2="496.00" stroke="#000" stroke-width="1.4"/>
<line x1="341.40" y1="406.00" x2="343.9" y2="406.00" stroke="#000" stroke-width="1.4"/>
<line x1="341.40" y1="486.00" x2="343.9" y2="486.00" stroke="#000" stroke-width="1.4"/>
<line x1="339.40" y1="416.00" x2="343.9" y2="416.00" stroke="#000" stroke-width="1.4"/>
<line x1="339.40" y1="476.00" x2="343.9" y2="476.00" stroke="#000" stroke-width="1.4"/>
<line x1="341.40" y1="426.00" x2="343.9" y2="426.00" stroke="#000" stroke-width="1.4"/>
<line x1="341.40" y1="466.00" x2="343.9" y2="466.00" stroke="#000" stroke-width="1.4"/>
<line x1="339.40" y1="436.00" x2="343.9" y2="436.00" stroke="#000" stroke-width="1.4"/>
<line x1="339.40" y1="456.00" x2="343.9" y2="456.00" stroke="#000" stroke-width="1.4"/>
<line x1="341.40" y1="446.00" x2="343.9" y2="446.00" stroke="#000" stroke-width="1.4"/>
<line x1="341.40" y1="446.00" x2="343.9" y2="446.00" stroke="#000" stroke-width="1.4"/>
<text x="335.90" y="339.10" text-anchor="end" class="ax">0</text>
<text x="335.90" y="559.10" text-anchor="end" class="ax">0</text>
<text x="335.90" y="359.10" text-anchor="end" class="ax">- 10</text>
<text x="335.90" y="539.10" text-anchor="end" class="ax">- 10</text>
<text x="335.90" y="379.10" text-anchor="end" class="ax">- 20</text>
<text x="335.90" y="519.10" text-anchor="end" class="ax">- 20</text>
<text x="335.90" y="399.10" text-anchor="end" class="ax">- 30</text>
<text x="335.90" y="499.10" text-anchor="end" class="ax">- 30</text>
<text x="335.90" y="419.10" text-anchor="end" class="ax">- 40</text>
<text x="335.90" y="479.10" text-anchor="end" class="ax">- 40</text>
<text x="335.90" y="439.10" text-anchor="end" class="ax">- 50</text>
<text x="335.90" y="459.10" text-anchor="end" class="ax">- 50</text>
<text x="474.89" y="326.30" text-anchor="middle" class="ang">0</text>
<text x="532.67" y="343.13" text-anchor="middle" class="ang">30</text>
<text x="577.33" y="387.80" text-anchor="middle" class="ang">60</text>
<text x="594.17" y="448.80" text-anchor="middle" class="ang">90</text>
<text x="580.66" y="509.09" text-anchor="middle" class="ang">120</text>
<text x="535.49" y="554.36" text-anchor="middle" class="ang">150</text>
<text x="474.74" y="569.54" text-anchor="middle" class="ang">180</text>
<text x="412.79" y="554.46" text-anchor="middle" class="ang">210</text>
<text x="367.62" y="509.09" text-anchor="middle" class="ang">240</text>
<text x="352.49" y="449.00" text-anchor="middle" class="ang">270</text>
<text x="367.62" y="387.50" text-anchor="middle" class="ang">300</text>
<text x="412.48" y="343.23" text-anchor="middle" class="ang">330</text>
<path d="M150.00,76.00 C152.22,75.43 153.33,75.68 155.00,75.80 C156.67,75.92 158.33,75.72 160.00,76.70 C161.67,77.68 163.75,80.03 165.00,81.70 C166.25,83.37 167.08,84.77 167.50,86.70 C167.92,88.63 167.63,90.95 167.50,93.30 C167.37,95.65 166.98,98.43 166.70,100.80 C166.42,103.17 166.37,105.55 165.80,107.50 C165.23,109.45 163.98,110.75 163.30,112.50 C162.62,114.25 161.97,116.20 161.70,118.00 C161.43,119.80 160.60,122.68 161.70,123.30 C162.80,123.92 166.37,121.97 168.30,121.70 C170.23,121.43 171.63,121.28 173.30,121.70 C174.97,122.12 177.18,123.23 178.30,124.20 C179.42,125.17 180.00,126.12 180.00,127.50 C180.00,128.88 179.27,131.12 178.30,132.50 C177.33,133.88 175.58,135.10 174.20,135.80 C172.82,136.50 171.87,137.00 170.00,136.70 C168.13,136.40 165.17,134.62 163.00,134.00 C160.83,133.38 158.33,132.83 157.00,133.00 C155.67,133.17 155.05,133.83 155.00,135.00 C154.95,136.17 155.58,138.05 156.70,140.00 C157.82,141.95 160.45,144.62 161.70,146.70 C162.95,148.78 164.07,150.98 164.20,152.50 C164.33,154.02 163.75,154.55 162.50,155.80 C161.25,157.05 158.78,158.60 156.70,160.00 C154.62,161.40 152.23,163.12 150.00,164.20 C147.77,165.28 146.08,166.37 143.30,166.50 C140.52,166.63 136.35,166.08 133.30,165.00 C130.25,163.92 127.22,161.95 125.00,160.00 C122.78,158.05 121.38,155.52 120.00,153.30 C118.62,151.08 117.53,148.92 116.70,146.70 C115.87,144.48 115.50,142.78 115.00,140.00 C114.50,137.22 113.92,133.05 113.70,130.00 C113.48,126.95 113.62,124.33 113.70,121.70 C113.78,119.07 113.98,116.85 114.20,114.20 C114.42,111.55 114.32,108.45 115.00,105.80 C115.68,103.15 116.63,101.22 118.30,98.30 C119.97,95.38 122.50,90.93 125.00,88.30 C127.50,85.67 130.52,84.02 133.30,82.50 C136.08,80.98 138.92,80.28 141.70,79.20 C144.48,78.12 147.78,76.57 150.00,76.00" fill="none" stroke="#00a848" stroke-width="2.7" stroke-linecap="round" stroke-dasharray="0.01 4.3"/><path d="M153.00,18.50 C158.50,18.55 165.83,18.80 170.00,19.80 C174.17,20.80 174.75,22.80 178.00,24.50 C181.25,26.20 186.33,28.42 189.50,30.00 C192.67,31.58 194.75,32.50 197.00,34.00 C199.25,35.50 201.00,37.07 203.00,39.00 C205.00,40.93 207.08,42.60 209.00,45.60 C210.92,48.60 212.33,53.43 214.50,57.00 C216.67,60.57 218.97,64.17 222.00,67.00 C225.03,69.83 230.20,71.17 232.70,74.00 C235.20,76.83 236.40,80.25 237.00,84.00 C237.60,87.75 236.72,92.50 236.30,96.50 C235.88,100.50 235.08,104.58 234.50,108.00 C233.92,111.42 233.47,114.45 232.80,117.00 C232.13,119.55 231.28,120.62 230.50,123.30 C229.72,125.98 228.93,130.10 228.10,133.10 C227.27,136.10 226.65,138.87 225.50,141.30 C224.35,143.73 223.18,145.67 221.20,147.70 C219.22,149.73 216.13,151.77 213.60,153.50 C211.07,155.23 208.13,156.27 206.00,158.10 C203.87,159.93 202.15,162.17 200.80,164.50 C199.45,166.83 199.87,169.68 197.90,172.10 C195.93,174.52 192.48,177.02 189.00,179.00 C185.52,180.98 181.17,181.83 177.00,184.00 C172.83,186.17 167.67,189.67 164.00,192.00 C160.33,194.33 157.88,196.73 155.00,198.00 C152.12,199.27 149.48,199.68 146.70,199.60 C143.92,199.52 141.08,198.27 138.30,197.50 C135.52,196.73 132.88,196.33 130.00,195.00 C127.12,193.67 124.33,191.83 121.00,189.50 C117.67,187.17 113.17,183.42 110.00,181.00 C106.83,178.58 104.73,177.50 102.00,175.00 C99.27,172.50 95.77,169.50 93.60,166.00 C91.43,162.50 90.03,157.00 89.00,154.00 C87.97,151.00 87.83,150.50 87.40,148.00 C86.97,145.50 86.97,142.00 86.40,139.00 C85.83,136.00 84.65,132.83 84.00,130.00 C83.35,127.17 82.67,124.50 82.50,122.00 C82.33,119.50 82.47,118.33 83.00,115.00 C83.53,111.67 84.87,106.17 85.70,102.00 C86.53,97.83 86.87,93.67 88.00,90.00 C89.13,86.33 91.77,83.33 92.50,80.00 C93.23,76.67 91.82,73.83 92.40,70.00 C92.98,66.17 94.90,60.17 96.00,57.00 C97.10,53.83 97.73,53.17 99.00,51.00 C100.27,48.83 102.18,46.00 103.60,44.00 C105.02,42.00 105.68,40.83 107.50,39.00 C109.32,37.17 112.58,34.88 114.50,33.00 C116.42,31.12 117.25,29.45 119.00,27.70 C120.75,25.95 122.00,23.87 125.00,22.50 C128.00,21.13 132.33,20.17 137.00,19.50 C141.67,18.83 147.50,18.45 153.00,18.50" fill="none" stroke="#000" stroke-width="2.5" stroke-dasharray="8.5 6.5 2 8"/><path d="M153.00,80.30 C154.92,80.88 156.05,81.17 157.50,82.50 C158.95,83.83 160.58,86.22 161.70,88.30 C162.82,90.38 163.70,92.77 164.20,95.00 C164.70,97.23 164.85,99.62 164.70,101.70 C164.55,103.78 163.95,105.57 163.30,107.50 C162.65,109.43 161.77,111.35 160.80,113.30 C159.83,115.25 158.60,117.38 157.50,119.20 C156.40,121.02 154.90,123.10 154.20,124.20 C153.50,125.30 152.62,126.22 153.30,125.80 C153.98,125.38 156.63,123.08 158.30,121.70 C159.97,120.32 161.63,118.40 163.30,117.50 C164.97,116.60 166.90,116.17 168.30,116.30 C169.70,116.43 170.83,116.63 171.70,118.30 C172.57,119.97 173.40,124.02 173.50,126.30 C173.60,128.58 173.10,130.47 172.30,132.00 C171.50,133.53 169.92,135.00 168.70,135.50 C167.48,136.00 166.32,135.50 165.00,135.00 C163.68,134.50 162.33,133.47 160.80,132.50 C159.27,131.53 156.85,129.95 155.80,129.20 C154.75,128.45 154.50,127.58 154.50,128.00 C154.50,128.42 155.02,130.12 155.80,131.70 C156.58,133.28 158.28,135.98 159.20,137.50 C160.12,139.02 160.67,139.27 161.30,140.80 C161.93,142.33 162.60,144.62 163.00,146.70 C163.40,148.78 163.87,151.08 163.70,153.30 C163.53,155.52 163.03,157.92 162.00,160.00 C160.97,162.08 159.00,164.22 157.50,165.80 C156.00,167.38 155.37,168.18 153.00,169.50 C150.63,170.82 146.30,173.20 143.30,173.70 C140.30,174.20 137.63,173.25 135.00,172.50 C132.37,171.75 129.72,170.45 127.50,169.20 C125.28,167.95 123.50,166.82 121.70,165.00 C119.90,163.18 118.37,160.88 116.70,158.30 C115.03,155.72 112.82,152.83 111.70,149.50 C110.58,146.17 110.50,142.17 110.00,138.30 C109.50,134.43 108.65,130.73 108.70,126.30 C108.75,121.87 109.58,115.67 110.30,111.70 C111.02,107.73 112.05,105.28 113.00,102.50 C113.95,99.72 114.67,97.42 116.00,95.00 C117.33,92.58 119.08,90.00 121.00,88.00 C122.92,86.00 124.67,84.50 127.50,83.00 C130.33,81.50 134.92,79.67 138.00,79.00 C141.08,78.33 143.50,78.78 146.00,79.00 C148.50,79.22 151.08,79.72 153.00,80.30" fill="none" stroke="#0010ff" stroke-width="2.3" stroke-linejoin="round"/><circle cx="153.00" cy="80.30" r="2.7" fill="#0010ff"/>
<circle cx="163.30" cy="107.50" r="2.7" fill="#0010ff"/>
<circle cx="168.30" cy="116.30" r="2.7" fill="#0010ff"/>
<circle cx="173.50" cy="126.30" r="2.7" fill="#0010ff"/>
<circle cx="168.70" cy="135.50" r="2.7" fill="#0010ff"/>
<circle cx="159.20" cy="137.50" r="2.7" fill="#0010ff"/>
<circle cx="153.00" cy="169.50" r="2.7" fill="#0010ff"/>
<circle cx="127.50" cy="169.20" r="2.7" fill="#0010ff"/>
<circle cx="111.70" cy="149.50" r="2.7" fill="#0010ff"/>
<circle cx="108.70" cy="126.30" r="2.7" fill="#0010ff"/>
<circle cx="113.00" cy="102.50" r="2.7" fill="#0010ff"/>
<circle cx="127.50" cy="83.00" r="2.7" fill="#0010ff"/><path d="M153.00,18.00 C157.67,18.00 162.83,17.73 168.00,18.40 C173.17,19.07 179.33,20.40 184.00,22.00 C188.67,23.60 192.40,25.83 196.00,28.00 C199.60,30.17 202.93,32.67 205.60,35.00 C208.27,37.33 209.93,39.50 212.00,42.00 C214.07,44.50 216.17,47.17 218.00,50.00 C219.83,52.83 221.33,55.67 223.00,59.00 C224.67,62.33 226.67,66.33 228.00,70.00 C229.33,73.67 230.45,77.67 231.00,81.00 C231.55,84.33 231.30,86.83 231.30,90.00 C231.30,93.17 231.33,96.40 231.00,100.00 C230.67,103.60 229.88,108.43 229.30,111.60 C228.72,114.77 228.13,116.57 227.50,119.00 C226.87,121.43 226.05,124.03 225.50,126.20 C224.95,128.37 224.63,130.17 224.20,132.00 C223.77,133.83 223.60,134.78 222.90,137.20 C222.20,139.62 221.07,143.58 220.00,146.50 C218.93,149.42 217.77,152.47 216.50,154.70 C215.23,156.93 214.05,157.58 212.40,159.90 C210.75,162.22 208.72,165.98 206.60,168.60 C204.48,171.22 202.13,173.78 199.70,175.60 C197.27,177.42 194.45,178.50 192.00,179.50 C189.55,180.50 188.00,180.52 185.00,181.60 C182.00,182.68 177.50,184.67 174.00,186.00 C170.50,187.33 167.50,189.10 164.00,189.60 C160.50,190.10 156.00,189.43 153.00,189.00 C150.00,188.57 148.50,187.57 146.00,187.00 C143.50,186.43 141.00,185.60 138.00,185.60 C135.00,185.60 131.33,186.93 128.00,187.00 C124.67,187.07 121.00,186.67 118.00,186.00 C115.00,185.33 112.67,184.33 110.00,183.00 C107.33,181.67 104.50,180.17 102.00,178.00 C99.50,175.83 97.00,172.67 95.00,170.00 C93.00,167.33 91.43,164.50 90.00,162.00 C88.57,159.50 87.57,157.67 86.40,155.00 C85.23,152.33 83.90,149.17 83.00,146.00 C82.10,142.83 81.50,139.33 81.00,136.00 C80.50,132.67 80.13,129.00 80.00,126.00 C79.87,123.00 80.10,120.67 80.20,118.00 C80.30,115.33 80.43,112.67 80.60,110.00 C80.77,107.33 80.97,104.67 81.20,102.00 C81.43,99.33 81.70,96.73 82.00,94.00 C82.30,91.27 82.50,88.10 83.00,85.60 C83.50,83.10 84.33,81.27 85.00,79.00 C85.67,76.73 86.33,74.33 87.00,72.00 C87.67,69.67 88.23,67.33 89.00,65.00 C89.77,62.67 90.60,60.33 91.60,58.00 C92.60,55.67 93.77,53.17 95.00,51.00 C96.23,48.83 97.67,47.00 99.00,45.00 C100.33,43.00 101.83,40.67 103.00,39.00 C104.17,37.33 104.50,36.67 106.00,35.00 C107.50,33.33 109.67,30.83 112.00,29.00 C114.33,27.17 117.33,25.33 120.00,24.00 C122.67,22.67 124.67,21.93 128.00,21.00 C131.33,20.07 135.83,18.90 140.00,18.40 C144.17,17.90 148.33,18.00 153.00,18.00" fill="none" stroke="#f00" stroke-width="2.3" stroke-linejoin="round"/><rect x="150.40" y="15.40" width="5.2" height="5.2" fill="#f00"/>
<rect x="203.00" y="32.40" width="5.2" height="5.2" fill="#f00"/>
<rect x="228.40" y="78.40" width="5.2" height="5.2" fill="#f00"/>
<rect x="222.90" y="123.60" width="5.2" height="5.2" fill="#f00"/>
<rect x="209.80" y="157.30" width="5.2" height="5.2" fill="#f00"/>
<rect x="182.40" y="179.00" width="5.2" height="5.2" fill="#f00"/>
<rect x="150.40" y="186.40" width="5.2" height="5.2" fill="#f00"/>
<rect x="115.40" y="183.40" width="5.2" height="5.2" fill="#f00"/>
<rect x="87.40" y="159.40" width="5.2" height="5.2" fill="#f00"/>
<rect x="77.40" y="123.40" width="5.2" height="5.2" fill="#f00"/>
<rect x="80.40" y="83.00" width="5.2" height="5.2" fill="#f00"/>
<rect x="100.40" y="36.40" width="5.2" height="5.2" fill="#f00"/><path d="M473.30,116.70 C474.27,117.48 476.05,116.87 477.30,115.50 C478.55,114.13 479.63,110.63 480.80,108.50 C481.97,106.37 483.13,104.45 484.30,102.70 C485.47,100.95 486.63,99.57 487.80,98.00 C488.97,96.43 490.13,95.05 491.30,93.30 C492.47,91.55 493.63,89.05 494.80,87.50 C495.97,85.95 496.93,85.17 498.30,84.00 C499.67,82.83 501.43,81.67 503.00,80.50 C504.57,79.33 506.20,77.92 507.70,77.00 C509.20,76.08 510.28,75.33 512.00,75.00 C513.72,74.67 515.33,74.83 518.00,75.00 C520.67,75.17 524.83,75.33 528.00,76.00 C531.17,76.67 534.33,77.50 537.00,79.00 C539.67,80.50 541.83,82.83 544.00,85.00 C546.17,87.17 548.33,89.50 550.00,92.00 C551.67,94.50 553.00,97.00 554.00,100.00 C555.00,103.00 555.83,106.67 556.00,110.00 C556.17,113.33 555.83,117.33 555.00,120.00 C554.17,122.67 552.25,124.00 551.00,126.00 C549.75,128.00 548.13,130.17 547.50,132.00 C546.87,133.83 547.28,134.83 547.20,137.00 C547.12,139.17 547.20,142.87 547.00,145.00 C546.80,147.13 546.67,148.60 546.00,149.80 C545.33,151.00 544.17,151.90 543.00,152.20 C541.83,152.50 540.35,151.50 539.00,151.60 C537.65,151.70 536.17,152.12 534.90,152.80 C533.63,153.48 532.57,154.63 531.40,155.70 C530.23,156.77 528.97,158.03 527.90,159.20 C526.83,160.37 526.07,161.53 525.00,162.70 C523.93,163.87 522.57,165.03 521.50,166.20 C520.43,167.37 519.38,168.53 518.60,169.70 C517.82,170.87 517.58,172.03 516.80,173.20 C516.02,174.37 514.87,175.93 513.90,176.70 C512.93,177.47 511.48,178.20 511.00,177.80 C510.52,177.40 511.00,175.55 511.00,174.30 C511.00,173.05 511.58,171.17 511.00,170.30 C510.42,169.43 508.67,169.40 507.50,169.10 C506.33,168.80 505.17,168.70 504.00,168.50 C502.83,168.30 501.67,167.98 500.50,167.90 C499.33,167.82 498.80,168.35 497.00,168.00 C495.20,167.65 491.68,167.08 489.70,165.80 C487.72,164.52 486.47,162.28 485.10,160.30 C483.73,158.32 482.72,155.90 481.50,153.90 C480.28,151.90 478.88,149.98 477.80,148.30 C476.72,146.62 475.88,145.43 475.00,143.80 C474.12,142.17 473.25,139.12 472.50,138.50 C471.75,137.88 471.15,139.38 470.50,140.10 C469.85,140.82 469.22,141.12 468.60,142.80 C467.98,144.48 467.72,147.75 466.80,150.20 C465.88,152.65 464.33,155.37 463.10,157.50 C461.87,159.63 460.62,160.85 459.40,163.00 C458.18,165.15 457.17,168.10 455.80,170.40 C454.43,172.70 453.18,175.43 451.20,176.80 C449.22,178.17 446.65,178.75 443.90,178.60 C441.15,178.45 437.47,177.27 434.70,175.90 C431.93,174.53 430.08,172.05 427.30,170.40 C424.52,168.75 421.22,168.07 418.00,166.00 C414.78,163.93 410.83,161.17 408.00,158.00 C405.17,154.83 402.83,150.83 401.00,147.00 C399.17,143.17 398.00,138.67 397.00,135.00 C396.00,131.33 395.50,128.33 395.00,125.00 C394.50,121.67 394.00,118.67 394.00,115.00 C394.00,111.33 394.33,106.67 395.00,103.00 C395.67,99.33 396.50,96.17 398.00,93.00 C399.50,89.83 401.33,86.50 404.00,84.00 C406.67,81.50 410.67,79.50 414.00,78.00 C417.33,76.50 420.33,75.83 424.00,75.00 C427.67,74.17 432.17,72.87 436.00,73.00 C439.83,73.13 443.80,74.35 447.00,75.80 C450.20,77.25 452.87,80.03 455.20,81.70 C457.53,83.37 459.25,84.53 461.00,85.80 C462.75,87.07 464.33,88.05 465.70,89.30 C467.07,90.55 468.38,91.65 469.20,93.30 C470.02,94.95 470.25,97.25 470.60,99.20 C470.95,101.15 471.15,103.07 471.30,105.00 C471.45,106.93 471.17,108.85 471.50,110.80 C471.83,112.75 472.33,115.92 473.30,116.70" fill="none" stroke="#00a848" stroke-width="2.7" stroke-linecap="round" stroke-dasharray="0.01 4.3"/><path d="M472.40,25.50 C474.73,25.42 475.73,25.08 478.00,25.50 C480.27,25.92 483.00,27.08 486.00,28.00 C489.00,28.92 493.00,29.83 496.00,31.00 C499.00,32.17 501.00,33.67 504.00,35.00 C507.00,36.33 511.50,37.33 514.00,39.00 C516.50,40.67 517.50,43.33 519.00,45.00 C520.50,46.67 521.50,47.50 523.00,49.00 C524.50,50.50 526.00,51.67 528.00,54.00 C530.00,56.33 533.17,60.50 535.00,63.00 C536.83,65.50 538.00,66.33 539.00,69.00 C540.00,71.67 540.33,75.67 541.00,79.00 C541.67,82.33 542.50,86.33 543.00,89.00 C543.50,91.67 544.33,92.67 544.00,95.00 C543.67,97.33 541.83,100.33 541.00,103.00 C540.17,105.67 539.67,108.33 539.00,111.00 C538.33,113.67 537.83,116.33 537.00,119.00 C536.17,121.67 534.83,124.33 534.00,127.00 C533.17,129.67 533.50,133.17 532.00,135.00 C530.50,136.83 527.27,136.60 525.00,138.00 C522.73,139.40 520.73,141.57 518.40,143.40 C516.07,145.23 513.40,147.57 511.00,149.00 C508.60,150.43 506.17,150.50 504.00,152.00 C501.83,153.50 499.50,155.67 498.00,158.00 C496.50,160.33 496.33,163.83 495.00,166.00 C493.67,168.17 492.00,169.33 490.00,171.00 C488.00,172.67 485.67,174.75 483.00,176.00 C480.33,177.25 476.50,178.17 474.00,178.50 C471.50,178.83 470.12,178.90 468.00,178.00 C465.88,177.10 463.63,174.68 461.30,173.10 C458.97,171.52 456.30,170.18 454.00,168.50 C451.70,166.82 449.33,164.98 447.50,163.00 C445.67,161.02 444.37,158.73 443.00,156.60 C441.63,154.47 441.15,151.58 439.30,150.20 C437.45,148.82 434.28,149.50 431.90,148.30 C429.52,147.10 427.32,144.88 425.00,143.00 C422.68,141.12 419.83,139.17 418.00,137.00 C416.17,134.83 415.33,132.00 414.00,130.00 C412.67,128.00 410.83,126.83 410.00,125.00 C409.17,123.17 409.33,121.17 409.00,119.00 C408.67,116.83 408.67,114.83 408.00,112.00 C407.33,109.17 405.67,105.00 405.00,102.00 C404.33,99.00 404.00,96.67 404.00,94.00 C404.00,91.33 404.50,88.67 405.00,86.00 C405.50,83.33 406.50,80.67 407.00,78.00 C407.50,75.33 407.33,72.33 408.00,70.00 C408.67,67.67 409.67,66.33 411.00,64.00 C412.33,61.67 414.50,58.00 416.00,56.00 C417.50,54.00 418.67,53.50 420.00,52.00 C421.33,50.50 422.83,48.50 424.00,47.00 C425.17,45.50 425.67,44.83 427.00,43.00 C428.33,41.17 429.83,37.67 432.00,36.00 C434.17,34.33 437.33,34.00 440.00,33.00 C442.67,32.00 445.00,31.00 448.00,30.00 C451.00,29.00 455.33,27.67 458.00,27.00 C460.67,26.33 461.60,26.25 464.00,26.00 C466.40,25.75 470.07,25.58 472.40,25.50" fill="none" stroke="#000" stroke-width="2.5" stroke-dasharray="8.5 6.5 2 8"/><path d="M472.70,88.10 L473.80,95.70 L475.00,105.00 L475.60,115.00 L478.50,107.30 L483.20,96.80 L490.20,80.50 L496.00,77.00 L507.00,69.40 L516.00,70.00 L524.00,71.00 L532.00,75.00 L540.00,81.00 L548.00,86.00 L553.00,93.00 L557.00,101.00 L559.60,111.00 L560.40,121.00 L560.40,130.60 L559.00,141.00 L556.00,151.00 L550.00,161.00 L541.00,170.00 L530.00,179.00 L520.00,189.00 L509.60,195.00 L497.00,197.40 L490.00,195.00 L483.00,190.00 L477.00,181.00 L472.40,172.20 L469.50,178.60 L465.00,188.70 L460.40,197.00 L447.50,199.70 L434.70,195.20 L424.00,189.00 L414.00,181.00 L403.00,170.60 L392.00,155.00 L386.00,143.00 L384.00,130.60 L384.40,115.00 L386.00,105.00 L390.00,95.00 L396.40,86.00 L406.00,78.00 L416.00,73.00 L426.00,70.00 L437.00,69.40 L451.70,74.70 L462.20,79.30 L468.00,84.00 L472.70,88.10" fill="none" stroke="#0010ff" stroke-width="2.3" stroke-linejoin="round"/><circle cx="472.70" cy="88.10" r="2.7" fill="#0010ff"/>
<circle cx="507.00" cy="69.40" r="2.7" fill="#0010ff"/>
<circle cx="548.00" cy="86.00" r="2.7" fill="#0010ff"/>
<circle cx="560.40" cy="130.60" r="2.7" fill="#0010ff"/>
<circle cx="541.00" cy="170.00" r="2.7" fill="#0010ff"/>
<circle cx="509.60" cy="195.00" r="2.7" fill="#0010ff"/>
<circle cx="472.40" cy="172.20" r="2.7" fill="#0010ff"/>
<circle cx="434.70" cy="195.20" r="2.7" fill="#0010ff"/>
<circle cx="403.00" cy="170.60" r="2.7" fill="#0010ff"/>
<circle cx="384.00" cy="130.60" r="2.7" fill="#0010ff"/>
<circle cx="396.40" cy="86.00" r="2.7" fill="#0010ff"/>
<circle cx="437.00" cy="69.40" r="2.7" fill="#0010ff"/><path d="M472.40,24.00 L486.00,25.40 L500.00,29.00 L512.00,35.00 L523.00,43.00 L530.00,51.00 L536.00,59.00 L541.00,69.00 L545.00,79.00 L546.60,88.00 L547.00,97.00 L546.00,107.00 L544.00,117.00 L541.60,125.00 L540.40,130.60 L538.00,140.00 L534.00,147.00 L527.00,153.00 L519.60,157.40 L513.30,159.20 L507.50,160.90 L501.70,157.40 L495.80,153.30 L488.40,149.80 L491.00,160.00 L494.00,166.00 L495.60,171.00 L493.00,179.00 L490.00,185.00 L483.00,190.00 L476.00,193.00 L472.40,193.00 L462.20,188.70 L455.00,182.00 L454.00,174.00 L453.00,164.00 L449.40,157.50 L444.00,160.00 L436.00,162.00 L425.00,157.60 L416.00,153.00 L409.00,146.00 L405.00,139.00 L403.60,130.60 L401.00,124.00 L399.00,115.00 L397.00,105.00 L396.00,95.00 L397.00,87.00 L402.00,75.00 L406.00,65.00 L410.00,55.00 L415.00,48.00 L421.00,42.00 L428.00,36.00 L436.00,31.00 L448.00,26.60 L460.00,25.00 L472.40,24.00" fill="none" stroke="#f00" stroke-width="2.3" stroke-linejoin="round"/><rect x="469.80" y="21.40" width="5.2" height="5.2" fill="#f00"/>
<rect x="520.40" y="40.40" width="5.2" height="5.2" fill="#f00"/>
<rect x="544.00" y="85.40" width="5.2" height="5.2" fill="#f00"/>
<rect x="537.80" y="128.00" width="5.2" height="5.2" fill="#f00"/>
<rect x="517.00" y="154.80" width="5.2" height="5.2" fill="#f00"/>
<rect x="493.00" y="168.40" width="5.2" height="5.2" fill="#f00"/>
<rect x="469.80" y="190.40" width="5.2" height="5.2" fill="#f00"/>
<rect x="450.40" y="161.40" width="5.2" height="5.2" fill="#f00"/>
<rect x="422.40" y="155.00" width="5.2" height="5.2" fill="#f00"/>
<rect x="401.00" y="128.00" width="5.2" height="5.2" fill="#f00"/>
<rect x="394.40" y="84.40" width="5.2" height="5.2" fill="#f00"/>
<rect x="418.40" y="39.40" width="5.2" height="5.2" fill="#f00"/><path d="M155.00,398.50 C157.22,398.77 161.63,399.43 163.30,400.80 C164.97,402.17 164.58,404.33 165.00,406.70 C165.42,409.07 165.52,412.23 165.80,415.00 C166.08,417.77 167.00,420.47 166.70,423.30 C166.40,426.13 164.95,429.22 164.00,432.00 C163.05,434.78 160.83,439.17 161.00,440.00 C161.17,440.83 163.22,437.70 165.00,437.00 C166.78,436.30 169.48,436.83 171.70,435.80 C173.92,434.77 176.08,432.18 178.30,430.80 C180.52,429.42 182.77,428.33 185.00,427.50 C187.23,426.67 189.75,425.38 191.70,425.80 C193.65,426.22 195.60,428.18 196.70,430.00 C197.80,431.82 198.17,434.20 198.30,436.70 C198.43,439.20 198.05,442.23 197.50,445.00 C196.95,447.77 196.08,450.97 195.00,453.30 C193.92,455.63 192.17,457.55 191.00,459.00 C189.83,460.45 189.17,460.67 188.00,462.00 C186.83,463.33 186.00,465.50 184.00,467.00 C182.00,468.50 178.50,469.67 176.00,471.00 C173.50,472.33 171.00,473.67 169.00,475.00 C167.00,476.33 165.83,478.67 164.00,479.00 C162.17,479.33 160.00,477.17 158.00,477.00 C156.00,476.83 153.67,477.67 152.00,478.00 C150.33,478.33 149.67,479.33 148.00,479.00 C146.33,478.67 143.83,477.17 142.00,476.00 C140.17,474.83 138.67,472.17 137.00,472.00 C135.33,471.83 133.50,473.50 132.00,475.00 C130.50,476.50 129.50,480.50 128.00,481.00 C126.50,481.50 124.50,479.83 123.00,478.00 C121.50,476.17 120.17,472.67 119.00,470.00 C117.83,467.33 116.67,464.50 116.00,462.00 C115.33,459.50 114.75,457.55 115.00,455.00 C115.25,452.45 117.22,449.20 117.50,446.70 C117.78,444.20 116.98,442.50 116.70,440.00 C116.42,437.50 115.53,434.48 115.80,431.70 C116.07,428.92 117.32,425.80 118.30,423.30 C119.28,420.80 120.30,418.78 121.70,416.70 C123.10,414.62 124.77,412.75 126.70,410.80 C128.63,408.85 130.80,406.67 133.30,405.00 C135.80,403.33 138.92,401.77 141.70,400.80 C144.48,399.83 147.78,399.58 150.00,399.20 C152.22,398.82 152.78,398.23 155.00,398.50" fill="none" stroke="#00a848" stroke-width="2.7" stroke-linecap="round" stroke-dasharray="0.01 4.3"/><path d="M155.60,338.50 C160.60,338.17 166.60,337.83 170.00,338.00 C173.40,338.17 173.67,338.50 176.00,339.50 C178.33,340.50 181.33,342.42 184.00,344.00 C186.67,345.58 190.17,347.50 192.00,349.00 C193.83,350.50 193.17,351.67 195.00,353.00 C196.83,354.33 200.83,355.50 203.00,357.00 C205.17,358.50 206.50,359.83 208.00,362.00 C209.50,364.17 210.67,367.17 212.00,370.00 C213.33,372.83 214.83,376.00 216.00,379.00 C217.17,382.00 218.17,385.50 219.00,388.00 C219.83,390.50 219.83,391.83 221.00,394.00 C222.17,396.17 224.50,399.00 226.00,401.00 C227.50,403.00 228.83,404.00 230.00,406.00 C231.17,408.00 233.00,410.33 233.00,413.00 C233.00,415.67 230.67,419.17 230.00,422.00 C229.33,424.83 228.33,427.67 229.00,430.00 C229.67,432.33 233.50,433.83 234.00,436.00 C234.50,438.17 232.83,440.33 232.00,443.00 C231.17,445.67 230.00,449.17 229.00,452.00 C228.00,454.83 226.67,457.67 226.00,460.00 C225.33,462.33 225.00,463.67 225.00,466.00 C225.00,468.33 226.33,471.33 226.00,474.00 C225.67,476.67 224.33,479.67 223.00,482.00 C221.67,484.33 220.17,485.67 218.00,488.00 C215.83,490.33 212.17,494.00 210.00,496.00 C207.83,498.00 207.00,498.73 205.00,500.00 C203.00,501.27 200.50,502.27 198.00,503.60 C195.50,504.93 192.33,506.77 190.00,508.00 C187.67,509.23 186.33,510.17 184.00,511.00 C181.67,511.83 178.67,513.08 176.00,513.00 C173.33,512.92 170.50,510.83 168.00,510.50 C165.50,510.17 163.60,511.15 161.00,511.00 C158.40,510.85 155.23,509.60 152.40,509.60 C149.57,509.60 146.57,511.27 144.00,511.00 C141.43,510.73 139.50,509.00 137.00,508.00 C134.50,507.00 131.50,506.17 129.00,505.00 C126.50,503.83 124.17,502.17 122.00,501.00 C119.83,499.83 118.33,499.17 116.00,498.00 C113.67,496.83 110.67,495.50 108.00,494.00 C105.33,492.50 102.00,490.50 100.00,489.00 C98.00,487.50 97.27,487.00 96.00,485.00 C94.73,483.00 93.90,479.83 92.40,477.00 C90.90,474.17 88.23,470.33 87.00,468.00 C85.77,465.67 86.33,464.67 85.00,463.00 C83.67,461.33 80.50,460.83 79.00,458.00 C77.50,455.17 76.33,449.33 76.00,446.00 C75.67,442.67 76.33,439.83 77.00,438.00 C77.67,436.17 79.33,437.00 80.00,435.00 C80.67,433.00 80.67,428.50 81.00,426.00 C81.33,423.50 81.00,422.50 82.00,420.00 C83.00,417.50 85.33,413.67 87.00,411.00 C88.67,408.33 91.33,406.17 92.00,404.00 C92.67,401.83 91.00,400.67 91.00,398.00 C91.00,395.33 91.33,391.00 92.00,388.00 C92.67,385.00 93.50,382.17 95.00,380.00 C96.50,377.83 98.83,376.83 101.00,375.00 C103.17,373.17 105.83,370.83 108.00,369.00 C110.17,367.17 112.67,365.67 114.00,364.00 C115.33,362.33 114.50,360.67 116.00,359.00 C117.50,357.33 121.00,355.83 123.00,354.00 C125.00,352.17 126.33,350.00 128.00,348.00 C129.67,346.00 131.00,343.33 133.00,342.00 C135.00,340.67 136.23,340.58 140.00,340.00 C143.77,339.42 150.60,338.83 155.60,338.50" fill="none" stroke="#000" stroke-width="2.5" stroke-dasharray="8.5 6.5 2 8"/><path d="M155.30,397.50 C157.80,399.02 160.30,400.93 161.70,403.30 C163.10,405.67 163.37,408.92 163.70,411.70 C164.03,414.48 163.90,416.95 163.70,420.00 C163.50,423.05 162.98,427.37 162.50,430.00 C162.02,432.63 161.27,434.35 160.80,435.80 C160.33,437.25 159.13,438.97 159.70,438.70 C160.27,438.43 162.48,435.93 164.20,434.20 C165.92,432.47 168.20,429.97 170.00,428.30 C171.80,426.63 173.05,425.03 175.00,424.20 C176.95,423.37 179.33,422.83 181.70,423.30 C184.07,423.77 187.53,425.33 189.20,427.00 C190.87,428.67 191.02,431.13 191.70,433.30 C192.38,435.47 192.97,437.77 193.30,440.00 C193.63,442.23 193.75,444.48 193.70,446.70 C193.65,448.92 193.48,451.08 193.00,453.30 C192.52,455.52 191.80,458.05 190.80,460.00 C189.80,461.95 188.52,463.62 187.00,465.00 C185.48,466.38 183.70,467.33 181.70,468.30 C179.70,469.27 176.90,470.10 175.00,470.80 C173.10,471.50 171.97,471.52 170.30,472.50 C168.63,473.48 166.72,474.90 165.00,476.70 C163.28,478.50 161.62,481.17 160.00,483.30 C158.38,485.43 157.63,487.88 155.30,489.50 C152.97,491.12 148.88,492.58 146.00,493.00 C143.12,493.42 140.40,492.83 138.00,492.00 C135.60,491.17 133.77,490.33 131.60,488.00 C129.43,485.67 126.77,481.50 125.00,478.00 C123.23,474.50 122.25,470.55 121.00,467.00 C119.75,463.45 118.45,460.08 117.50,456.70 C116.55,453.32 116.05,450.60 115.30,446.70 C114.55,442.80 113.33,437.33 113.00,433.30 C112.67,429.27 112.68,425.83 113.30,422.50 C113.92,419.17 115.30,416.22 116.70,413.30 C118.10,410.38 119.77,407.55 121.70,405.00 C123.63,402.45 125.53,399.72 128.30,398.00 C131.07,396.28 135.23,395.33 138.30,394.70 C141.37,394.07 143.87,393.73 146.70,394.20 C149.53,394.67 152.80,395.98 155.30,397.50" fill="none" stroke="#0010ff" stroke-width="2.3" stroke-linejoin="round"/><circle cx="155.30" cy="397.50" r="2.7" fill="#0010ff"/>
<circle cx="159.70" cy="438.70" r="2.7" fill="#0010ff"/>
<circle cx="189.20" cy="427.00" r="2.7" fill="#0010ff"/>
<circle cx="193.70" cy="446.70" r="2.7" fill="#0010ff"/>
<circle cx="187.00" cy="465.00" r="2.7" fill="#0010ff"/>
<circle cx="170.30" cy="472.50" r="2.7" fill="#0010ff"/>
<circle cx="155.30" cy="489.50" r="2.7" fill="#0010ff"/>
<circle cx="131.60" cy="488.00" r="2.7" fill="#0010ff"/>
<circle cx="121.00" cy="467.00" r="2.7" fill="#0010ff"/>
<circle cx="115.30" cy="446.70" r="2.7" fill="#0010ff"/>
<circle cx="113.30" cy="422.50" r="2.7" fill="#0010ff"/>
<circle cx="128.30" cy="398.00" r="2.7" fill="#0010ff"/><path d="M155.60,336.00 L170.00,337.00 L184.00,340.00 L196.00,346.00 L204.00,352.00 L207.60,356.60 L212.00,364.00 L216.00,374.00 L219.00,384.00 L222.00,394.00 L224.60,406.60 L229.00,414.00 L234.00,424.00 L237.00,434.00 L237.60,446.40 L237.00,458.00 L234.00,470.00 L229.00,479.00 L223.60,486.00 L218.00,494.00 L210.00,502.00 L202.00,508.00 L194.00,513.00 L184.00,517.00 L176.00,520.00 L168.00,522.40 L162.00,521.00 L155.60,520.60 L146.00,515.00 L138.00,511.00 L130.00,510.00 L120.00,508.00 L110.00,502.00 L104.00,496.00 L98.00,490.00 L91.60,483.60 L87.00,479.00 L82.00,472.00 L77.00,464.00 L74.00,456.00 L72.40,446.40 L72.60,442.00 L73.60,434.00 L76.00,426.00 L80.00,418.00 L88.40,408.60 L95.00,403.90 L99.60,398.80 L100.10,388.60 L102.10,379.40 L104.70,370.30 L106.60,362.60 L111.00,358.50 L115.00,355.00 L120.00,350.00 L126.00,345.00 L134.00,340.00 L144.00,337.00 L155.60,336.00" fill="none" stroke="#f00" stroke-width="2.3" stroke-linejoin="round"/><rect x="153.00" y="333.40" width="5.2" height="5.2" fill="#f00"/>
<rect x="205.00" y="354.00" width="5.2" height="5.2" fill="#f00"/>
<rect x="222.00" y="404.00" width="5.2" height="5.2" fill="#f00"/>
<rect x="235.00" y="443.80" width="5.2" height="5.2" fill="#f00"/>
<rect x="221.00" y="483.40" width="5.2" height="5.2" fill="#f00"/>
<rect x="191.40" y="510.40" width="5.2" height="5.2" fill="#f00"/>
<rect x="153.00" y="518.00" width="5.2" height="5.2" fill="#f00"/>
<rect x="117.40" y="505.40" width="5.2" height="5.2" fill="#f00"/>
<rect x="89.00" y="481.00" width="5.2" height="5.2" fill="#f00"/>
<rect x="69.80" y="443.80" width="5.2" height="5.2" fill="#f00"/>
<rect x="85.80" y="406.00" width="5.2" height="5.2" fill="#f00"/>
<rect x="104.00" y="360.00" width="5.2" height="5.2" fill="#f00"/><path d="M475.50,412.00 C476.38,412.42 476.83,384.38 478.00,378.00 C479.17,371.62 480.75,375.20 482.50,373.70 C484.25,372.20 486.50,370.37 488.50,369.00 C490.50,367.63 492.50,366.58 494.50,365.50 C496.50,364.42 498.25,363.50 500.50,362.50 C502.75,361.50 505.50,359.75 508.00,359.50 C510.50,359.25 513.17,360.58 515.50,361.00 C517.83,361.42 519.25,361.17 522.00,362.00 C524.75,362.83 528.67,364.33 532.00,366.00 C535.33,367.67 539.00,369.67 542.00,372.00 C545.00,374.33 547.67,377.33 550.00,380.00 C552.33,382.67 554.17,385.00 556.00,388.00 C557.83,391.00 559.67,394.67 561.00,398.00 C562.33,401.33 563.33,404.67 564.00,408.00 C564.67,411.33 565.00,414.67 565.00,418.00 C565.00,421.33 564.50,424.67 564.00,428.00 C563.50,431.33 562.50,435.00 562.00,438.00 C561.50,441.00 561.33,443.67 561.00,446.00 C560.67,448.33 560.50,449.33 560.00,452.00 C559.50,454.67 559.00,458.67 558.00,462.00 C557.00,465.33 555.50,469.00 554.00,472.00 C552.50,475.00 551.00,477.33 549.00,480.00 C547.00,482.67 544.50,485.67 542.00,488.00 C539.50,490.33 536.67,492.00 534.00,494.00 C531.33,496.00 528.67,498.50 526.00,500.00 C523.33,501.50 520.67,502.17 518.00,503.00 C515.33,503.83 512.33,504.50 510.00,505.00 C507.67,505.50 505.85,506.60 504.00,506.00 C502.15,505.40 500.37,503.08 498.90,501.40 C497.43,499.72 496.12,497.73 495.20,495.90 C494.28,494.07 494.17,492.08 493.40,490.40 C492.63,488.72 491.52,487.03 490.60,485.80 C489.68,484.57 489.12,483.47 487.90,483.00 C486.68,482.53 484.52,483.92 483.30,483.00 C482.08,482.08 481.67,479.33 480.60,477.50 C479.53,475.67 477.98,472.60 476.90,472.00 C475.82,471.40 474.72,472.67 474.10,473.90 C473.48,475.13 473.65,477.27 473.20,479.40 C472.75,481.53 472.02,484.27 471.40,486.70 C470.78,489.13 470.42,491.87 469.50,494.00 C468.58,496.13 467.42,497.97 465.90,499.50 C464.38,501.03 462.23,502.28 460.40,503.20 C458.57,504.12 457.05,504.53 454.90,505.00 C452.75,505.47 450.27,506.00 447.50,506.00 C444.73,506.00 441.35,505.47 438.30,505.00 C435.25,504.53 432.25,504.37 429.20,503.20 C426.15,502.03 422.70,500.20 420.00,498.00 C417.30,495.80 415.33,493.00 413.00,490.00 C410.67,487.00 407.83,483.33 406.00,480.00 C404.17,476.67 403.00,473.33 402.00,470.00 C401.00,466.67 400.83,463.00 400.00,460.00 C399.17,457.00 398.00,454.67 397.00,452.00 C396.00,449.33 394.83,446.33 394.00,444.00 C393.17,441.67 392.50,440.33 392.00,438.00 C391.50,435.67 391.33,433.00 391.00,430.00 C390.67,427.00 390.17,423.67 390.00,420.00 C389.83,416.33 389.67,411.67 390.00,408.00 C390.33,404.33 391.00,401.00 392.00,398.00 C393.00,395.00 394.67,392.33 396.00,390.00 C397.33,387.67 398.33,386.17 400.00,384.00 C401.67,381.83 403.67,379.33 406.00,377.00 C408.33,374.67 411.33,371.83 414.00,370.00 C416.67,368.17 419.33,367.17 422.00,366.00 C424.67,364.83 427.00,363.67 430.00,363.00 C433.00,362.33 437.50,362.08 440.00,362.00 C442.50,361.92 442.92,361.92 445.00,362.50 C447.08,363.08 450.00,364.42 452.50,365.50 C455.00,366.58 457.75,367.63 460.00,369.00 C462.25,370.37 463.88,372.62 466.00,373.70 C468.12,374.78 471.12,369.12 472.70,375.50 C474.28,381.88 474.62,411.58 475.50,412.00" fill="none" stroke="#00a848" stroke-width="2.7" stroke-linecap="round" stroke-dasharray="0.01 4.3"/><path d="M475.60,338.00 C477.93,337.92 479.10,338.17 481.00,338.50 C482.90,338.83 484.50,339.33 487.00,340.00 C489.50,340.67 493.25,341.50 496.00,342.50 C498.75,343.50 501.00,344.92 503.50,346.00 C506.00,347.08 508.92,348.17 511.00,349.00 C513.08,349.83 514.17,349.50 516.00,351.00 C517.83,352.50 520.00,355.83 522.00,358.00 C524.00,360.17 526.33,362.17 528.00,364.00 C529.67,365.83 530.67,366.67 532.00,369.00 C533.33,371.33 534.83,375.50 536.00,378.00 C537.17,380.50 537.67,381.00 539.00,384.00 C540.33,387.00 543.00,392.33 544.00,396.00 C545.00,399.67 544.83,403.33 545.00,406.00 C545.17,408.67 544.67,409.83 545.00,412.00 C545.33,414.17 547.00,416.00 547.00,419.00 C547.00,422.00 545.67,426.50 545.00,430.00 C544.33,433.50 543.50,437.00 543.00,440.00 C542.50,443.00 542.83,445.67 542.00,448.00 C541.17,450.33 539.33,450.83 538.00,454.00 C536.67,457.17 535.67,463.83 534.00,467.00 C532.33,470.17 530.00,471.33 528.00,473.00 C526.00,474.67 524.00,475.83 522.00,477.00 C520.00,478.17 518.33,479.17 516.00,480.00 C513.67,480.83 511.00,481.00 508.00,482.00 C505.00,483.00 500.33,485.00 498.00,486.00 C495.67,487.00 495.38,487.12 494.00,488.00 C492.62,488.88 491.03,489.38 489.70,491.30 C488.37,493.22 487.83,497.22 486.00,499.50 C484.17,501.78 481.28,504.08 478.70,505.00 C476.12,505.92 472.48,505.92 470.50,505.00 C468.52,504.08 468.18,501.63 466.80,499.50 C465.42,497.37 464.03,494.78 462.20,492.20 C460.37,489.62 457.78,485.68 455.80,484.00 C453.82,482.32 452.43,483.43 450.30,482.10 C448.17,480.77 445.15,477.98 443.00,476.00 C440.85,474.02 438.93,472.23 437.40,470.20 C435.87,468.17 435.03,465.95 433.80,463.80 C432.57,461.65 431.08,458.83 430.00,457.30 C428.92,455.77 428.97,455.98 427.30,454.60 C425.63,453.22 421.72,450.43 420.00,449.00 C418.28,447.57 417.83,447.67 417.00,446.00 C416.17,444.33 415.67,441.33 415.00,439.00 C414.33,436.67 413.57,434.17 413.00,432.00 C412.43,429.83 412.43,428.67 411.60,426.00 C410.77,423.33 408.83,419.00 408.00,416.00 C407.17,413.00 406.70,410.33 406.60,408.00 C406.50,405.67 407.17,404.67 407.40,402.00 C407.63,399.33 407.40,395.83 408.00,392.00 C408.60,388.17 410.00,382.17 411.00,379.00 C412.00,375.83 412.67,374.83 414.00,373.00 C415.33,371.17 417.00,370.50 419.00,368.00 C421.00,365.50 424.17,360.17 426.00,358.00 C427.83,355.83 428.17,356.33 430.00,355.00 C431.83,353.67 434.67,351.50 437.00,350.00 C439.33,348.50 441.83,347.17 444.00,346.00 C446.17,344.83 447.58,343.83 450.00,343.00 C452.42,342.17 455.67,341.67 458.50,341.00 C461.33,340.33 464.15,339.50 467.00,339.00 C469.85,338.50 473.27,338.08 475.60,338.00" fill="none" stroke="#000" stroke-width="2.5" stroke-dasharray="8.5 6.5 2 8"/><path d="M475.60,410.50 L479.50,397.00 L485.50,379.00 L491.50,362.50 L497.50,359.50 L505.00,355.70 L514.00,356.50 L526.40,357.00 L536.00,362.00 L546.00,370.00 L556.00,382.00 L565.60,394.40 L570.00,406.00 L572.40,418.00 L573.60,430.00 L573.60,446.00 L572.00,458.00 L568.00,470.00 L561.00,481.00 L552.40,491.00 L540.00,500.00 L528.00,508.00 L516.50,516.00 L503.00,519.00 L496.00,515.00 L489.00,510.00 L482.00,502.00 L475.60,497.30 L469.50,506.90 L463.10,518.80 L449.40,519.70 L435.60,515.30 L422.00,508.00 L410.00,500.00 L398.00,490.40 L385.00,470.00 L380.00,456.00 L377.60,446.00 L378.00,432.00 L379.00,420.00 L382.00,406.00 L386.60,394.00 L396.00,383.00 L406.00,374.00 L416.00,366.00 L425.00,359.00 L430.00,358.70 L443.50,355.00 L460.50,362.50 L466.00,379.00 L471.20,395.50 L475.60,410.50" fill="none" stroke="#0010ff" stroke-width="2.3" stroke-linejoin="round"/><circle cx="475.60" cy="410.50" r="2.7" fill="#0010ff"/>
<circle cx="526.40" cy="357.00" r="2.7" fill="#0010ff"/>
<circle cx="565.60" cy="394.40" r="2.7" fill="#0010ff"/>
<circle cx="573.60" cy="446.00" r="2.7" fill="#0010ff"/>
<circle cx="552.40" cy="491.00" r="2.7" fill="#0010ff"/>
<circle cx="516.50" cy="516.00" r="2.7" fill="#0010ff"/>
<circle cx="475.60" cy="497.30" r="2.7" fill="#0010ff"/>
<circle cx="435.60" cy="515.30" r="2.7" fill="#0010ff"/>
<circle cx="398.00" cy="490.40" r="2.7" fill="#0010ff"/>
<circle cx="377.60" cy="446.00" r="2.7" fill="#0010ff"/>
<circle cx="386.60" cy="394.00" r="2.7" fill="#0010ff"/>
<circle cx="425.00" cy="359.00" r="2.7" fill="#0010ff"/><path d="M475.60,337.00 L490.00,338.00 L502.00,341.00 L514.00,346.00 L522.00,351.00 L527.00,357.00 L534.00,365.00 L540.00,372.00 L545.00,382.00 L549.00,392.00 L550.60,402.40 L551.00,414.00 L550.00,426.00 L547.00,436.00 L544.00,446.00 L542.00,454.00 L539.00,462.00 L534.00,468.00 L525.60,474.40 L515.00,479.00 L508.00,478.00 L502.00,477.00 L501.00,484.00 L500.00,488.40 L498.00,498.00 L493.00,506.00 L487.00,511.00 L480.00,513.60 L475.60,514.40 L467.70,511.50 L462.20,506.90 L455.80,499.50 L456.70,486.70 L457.60,475.70 L447.50,477.50 L436.50,479.40 L426.40,473.90 L419.00,468.00 L413.00,460.00 L409.00,453.00 L407.00,445.60 L405.00,436.00 L403.00,426.00 L401.00,414.00 L400.00,401.60 L404.00,388.00 L408.00,378.00 L412.00,370.00 L418.00,363.00 L424.00,355.00 L430.00,350.00 L440.00,343.00 L452.00,339.00 L464.00,337.60 L475.60,337.00" fill="none" stroke="#f00" stroke-width="2.3" stroke-linejoin="round"/><rect x="473.00" y="334.40" width="5.2" height="5.2" fill="#f00"/>
<rect x="524.40" y="354.40" width="5.2" height="5.2" fill="#f00"/>
<rect x="548.00" y="399.80" width="5.2" height="5.2" fill="#f00"/>
<rect x="541.40" y="443.40" width="5.2" height="5.2" fill="#f00"/>
<rect x="523.00" y="471.80" width="5.2" height="5.2" fill="#f00"/>
<rect x="497.40" y="485.80" width="5.2" height="5.2" fill="#f00"/>
<rect x="473.00" y="511.80" width="5.2" height="5.2" fill="#f00"/>
<rect x="455.00" y="473.10" width="5.2" height="5.2" fill="#f00"/>
<rect x="423.80" y="471.30" width="5.2" height="5.2" fill="#f00"/>
<rect x="404.40" y="443.00" width="5.2" height="5.2" fill="#f00"/>
<rect x="397.40" y="399.00" width="5.2" height="5.2" fill="#f00"/>
<rect x="421.40" y="352.40" width="5.2" height="5.2" fill="#f00"/>
<ellipse cx="138.3" cy="79" rx="5" ry="9.7" fill="none" stroke="#444" stroke-width="1"/><text x="135" y="66" class="el" font-size="13">E<tspan font-size="8.8" dy="2.2">φ</tspan></text><ellipse cx="217.7" cy="58" rx="13.7" ry="7" fill="none" stroke="#444" stroke-width="1"/><text x="199" y="72.7" class="el" font-size="13">E<tspan font-size="8.8" dy="2.2">θ</tspan></text><ellipse cx="457.3" cy="81.4" rx="5" ry="11.4" fill="none" stroke="#444" stroke-width="1"/><text x="451.7" y="102.7" class="el" font-size="13">E<tspan font-size="8.8" dy="2.2">θ</tspan></text><ellipse cx="527.9" cy="55.8" rx="12.5" ry="4.6" fill="none" stroke="#444" stroke-width="1"/><text x="500.4" y="57.9" class="el" font-size="13">E<tspan font-size="8.8" dy="2.2">φ</tspan></text><ellipse cx="111.3" cy="363.2" rx="14.2" ry="4.6" fill="none" stroke="#444" stroke-width="1"/><text x="126.1" y="368.3" class="el" font-size="13">E<tspan font-size="8.8" dy="2.2">θ</tspan></text><ellipse cx="119" cy="415.4" rx="12.7" ry="4.9" fill="none" stroke="#444" stroke-width="1"/><text x="133.7" y="420.2" class="el" font-size="13">E<tspan font-size="8.8" dy="2.2">φ</tspan></text><ellipse cx="455.5" cy="338.9" rx="15.7" ry="6.3" fill="none" stroke="#444" stroke-width="1"/><text x="458.5" y="355" class="el" font-size="13">E<tspan font-size="8.8" dy="2.2">φ</tspan></text><ellipse cx="499.8" cy="361.7" rx="5.2" ry="12" fill="none" stroke="#444" stroke-width="1"/><text x="496" y="383.5" class="el" font-size="13">E<tspan font-size="8.8" dy="2.2">θ</tspan></text>

<text x="154.7" y="274.7" text-anchor="middle" class="cap">E-plane (xz-plane)</text>
<text x="155.9" y="297" text-anchor="middle" class="sub">(a)</text>
<text x="485" y="280.7" text-anchor="middle" class="cap">H-plane (yz-plane)</text>
<text x="479" y="297" text-anchor="middle" class="sub">(b)</text>
<text x="159" y="592.5" text-anchor="middle" class="cap">E-plane (xz-plane)</text>
<text x="155.9" y="611" text-anchor="middle" class="sub">(c)</text>
<text x="478.4" y="593.3" text-anchor="middle" class="cap">H-plane (yz-plane)</text>
<text x="478.7" y="610.5" text-anchor="middle" class="sub">(d)</text>


<line x1="176.8" y1="614" x2="200.8" y2="614" stroke="#f00" stroke-width="1.6"/>
<rect x="186" y="611.5" width="5.5" height="5" fill="#f00"/>
<text x="204" y="617.9" class="leg">Co-polar ;</text>
<line x1="262.7" y1="614" x2="286" y2="614" stroke="#00f" stroke-width="1.6"/>
<circle cx="274.7" cy="614" r="2.6" fill="#00f"/>
<text x="292.8" y="617.9" class="leg">Cross-polar ; simulated</text>
<line x1="177.7" y1="635.5" x2="201" y2="635.5" stroke="#000" stroke-width="2" stroke-dasharray="6.3 4.6 1.4 4.7"/>
<text x="204" y="639.2" class="leg">Co-polar ;</text>
<line x1="262.7" y1="635.5" x2="286" y2="635.5" stroke="#0a0" stroke-width="1.4" stroke-dasharray="1.2 1.4"/>
<text x="292.8" y="639.2" class="leg">Cross-polar ; measured</text>
<text x="173.9" y="661.9" class="leg">Co-polar</text>
<line x1="224" y1="658.7" x2="245" y2="658.7" stroke="#000" stroke-width="1.2"/>
<path d="M243 655.5 L248.5 658.7 L243 661.9" fill="none" stroke="#000" stroke-width="1.2"/>
<text x="253" y="661.9" class="leg">(E<tspan class="sb" dy="2">θ</tspan><tspan dy="-2"> in E-plane and E</tspan><tspan class="sb" dy="2">φ</tspan><tspan dy="-2"> in H-plane)</tspan></text>
<text x="173.9" y="682.7" class="leg">Cross-polar</text>
<line x1="233.3" y1="679.2" x2="254.3" y2="679.2" stroke="#000" stroke-width="1.2"/>
<path d="M252.3 676 L257.8 679.2 L252.3 682.4" fill="none" stroke="#000" stroke-width="1.2"/>
<text x="263.5" y="682.7" class="leg">(E<tspan class="sb" dy="2">φ</tspan><tspan dy="-2"> in E-plane and E</tspan><tspan class="sb" dy="2">θ</tspan><tspan dy="-2"> in H-plane)</tspan></text>

</svg></body></html>
